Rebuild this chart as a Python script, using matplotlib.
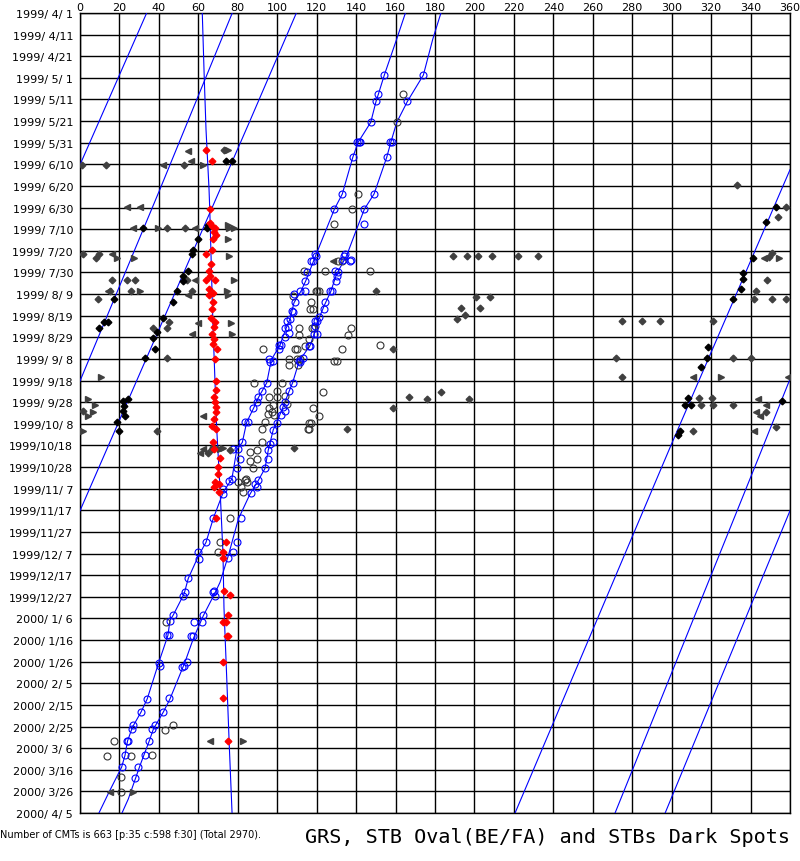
import matplotlib
matplotlib.use("Agg")
import matplotlib.pyplot as plt

# ---------------- data (longitude [deg], days since 1999/4/1) ----------------
date_labels = [
    "1999/ 4/ 1", "1999/ 4/11", "1999/ 4/21", "1999/ 5/ 1", "1999/ 5/11", "1999/ 5/21",
    "1999/ 5/31", "1999/ 6/10", "1999/ 6/20", "1999/ 6/30", "1999/ 7/10", "1999/ 7/20",
    "1999/ 7/30", "1999/ 8/ 9", "1999/ 8/19", "1999/ 8/29", "1999/ 9/ 8", "1999/ 9/18",
    "1999/ 9/28", "1999/10/ 8", "1999/10/18", "1999/10/28", "1999/11/ 7", "1999/11/17",
    "1999/11/27", "1999/12/ 7", "1999/12/17", "1999/12/27", "2000/ 1/ 6", "2000/ 1/16",
    "2000/ 1/26", "2000/ 2/ 5", "2000/ 2/15", "2000/ 2/25", "2000/ 3/ 6", "2000/ 3/16",
    "2000/ 3/26", "2000/ 4/ 5"]
date_days = list(range(0, 371, 10))
lon_ticks = list(range(0, 361, 20))

# drift lines (blue)
grs_line = [(62.0, 0), (63.0, 30), (63.9, 54), (65.4, 81), (65.8, 91), (67.4, 144),
            (69.3, 192), (71.0, 220), (72.5, 250), (73.0, 275), (74.5, 310),
            (75.7, 339), (77.1, 370)]
oval_a_line = [(165.0, 0), (160.6, 12), (154.3, 28.7), (151.3, 37.5), (150.1, 40.9),
               (147.4, 50.6), (141.0, 59.8), (138.3, 66.8), (133.0, 83.7), (129.0, 90.7),
               (119.5, 112.2), (114.5, 123.8), (112.0, 128.7), (108.5, 134.0),
               (106.5, 141.5), (104.4, 146.0), (101.4, 153.6), (97.0, 160.4), (94.7, 171.0),
               (90.5, 177.8), (88.0, 182.8), (84.5, 189.3), (82.3, 198.6), (79.5, 202.0),
               (77.0, 215.5), (72.7, 221.5), (67.6, 233.7), (63.9, 244.8), (60.2, 250.8),
               (54.9, 261.5), (52.8, 268.6), (47.3, 278.4), (45.6, 281.0), (44.6, 287.8),
               (39.9, 300.5), (34.1, 317.2), (30.9, 323.4), (26.6, 330.3), (24.1, 336.7),
               (22.8, 343.4), (21.1, 348.8), (14.9, 360.0), (9.6, 370.0)]
oval_b_line = [(183.0, 0), (178.9, 12), (174.1, 28.7), (166.0, 40.9), (160.6, 50.6),
               (157.6, 59.8), (155.5, 66.8), (149.1, 83.7), (144.2, 90.7), (140.3, 99.9),
               (135.2, 112.2), (130.0, 121.0), (127.2, 128.7), (124.0, 135.0),
               (120.8, 142.0), (118.7, 148.6), (116.6, 153.9), (111.2, 160.8),
               (107.8, 171.0), (106.1, 174.8), (103.0, 182.0), (99.7, 189.6), (98.0, 192.7),
               (95.5, 202.0), (93.8, 210.6), (90.4, 216.2), (86.2, 222.5), (80.3, 234.0),
               (75.2, 251.0), (71.0, 263.3), (68.3, 268.5), (62.5, 278.8), (57.4, 289.5),
               (53.2, 300.3), (45.6, 317.3), (42.2, 323.4), (37.2, 331.2), (35.1, 336.7),
               (30.4, 348.1), (24.5, 363.5), (21.3, 370.0)]
stbs_lines = [
    [(33.8, 0), (0, 70.2)],
    [(360, 72.5), (299.2, 200.9), (220.6, 370)],
    [(77.2, 0), (40.6, 81.4), (0, 170.2)],
    [(360, 169.3), (345.8, 201.7), (271.3, 370)],
    [(109.7, 0), (86.2, 49.8), (0, 230.2)],
    [(360, 230.2), (296.7, 370)],
]

# GRS (red diamonds)
grs_spots = [(63.7, 63.2), (66.8, 68.6), (65.9, 90.6), (66.8, 98.4), (68.5, 99.4), (65.9, 96.9),
             (67.3, 104.5), (66.8, 109.6), (63.9, 111.5), (65.6, 119.2), (65.9, 121.5),
             (64.0, 123.3), (68.2, 123.3), (65.6, 127.6), (67.3, 129.3), (65.3, 130.5),
             (67.6, 133.5), (66.5, 141.0), (68.2, 142.7), (66.8, 148.5), (67.7, 150.8),
             (67.2, 153.1), (69.4, 155.4), (68.5, 160.0), (68.8, 170.4), (68.8, 174.2),
             (68.1, 177.8), (68.5, 180.1), (69.2, 182.4), (69.2, 184.7), (68.1, 187.8),
             (66.8, 190.9), (69.2, 192.4), (67.8, 201.6), (71.0, 206.0), (69.8, 210.1),
             (70.0, 213.0), (68.5, 217.0), (70.7, 218.0), (67.8, 219.3), (70.7, 221.6),
             (69.0, 233.6), (74.0, 244.5), (72.7, 249.1), (72.7, 252.2), (73.0, 267.2),
             (76.1, 269.2), (75.2, 278.4), (72.7, 281.5), (74.0, 281.5), (74.5, 288.3),
             (75.0, 288.3), (72.7, 300.3), (72.7, 316.9), (75.2, 336.9), (67.6, 198.6),
             (67.9, 101.5), (68.8, 102.5), (66.3, 116.0), (67.0, 137.0), (68.0, 145.0)]

# STBs dark spots on drift lines (black diamonds)
dark_main = [(73.9, 68.6), (76.9, 68.6), (32.1, 99.4), (64.2, 99.4), (64.7, 97.9), (59.7, 104.5),
             (57.5, 109.6), (56.6, 111.5), (54.9, 119.2), (52.4, 121.5), (52.4, 123.8),
             (49.0, 128.7), (47.0, 133.5), (41.9, 141.2), (38.9, 147.7), (36.9, 150.3),
             (38.0, 155.4), (33.0, 159.6), (12.3, 142.7), (14.0, 142.7), (9.8, 145.9),
             (17.2, 132.2), (22.0, 179.3), (24.5, 178.5), (22.5, 181.6), (22.0, 183.9),
             (22.8, 186.2), (18.6, 189.2), (19.8, 193.1),
             (353.0, 89.6), (347.7, 96.5), (341.1, 113.3), (336.4, 120.4), (336.0, 123.0),
             (335.0, 127.6), (331.3, 132.1), (318.6, 154.3), (317.8, 159.6), (314.9, 163.5),
             (308.5, 178.2), (306.8, 181.3), (309.8, 181.3), (355.8, 179.3), (304.3, 193.1),
             (303.1, 195.1)]

# other dark spots (dark grey diamonds)
dark_other = [(73.0, 63.2), (0.9, 70.2), (13.2, 70.2), (52.9, 70.2), (44.0, 99.4), (53.3, 99.4),
              (1.7, 111.5), (9.8, 111.5), (7.9, 113.5), (54.1, 123.3), (16.1, 123.3),
              (23.7, 123.3), (27.9, 123.3), (56.6, 128.7), (15.2, 128.7), (25.9, 128.7),
              (9.0, 132.2), (45.3, 142.7), (36.9, 145.9), (44.0, 145.7), (44.0, 159.6),
              (1.7, 183.9), (38.9, 193.1), (65.1, 203.5), (66.8, 201.6), (67.6, 200.9),
              (76.1, 201.9), (108.5, 201.3), (135.2, 192.4), (158.9, 182.7), (149.9, 128.4),
              (158.6, 155.4), (189.0, 112.2), (196.1, 112.2), (201.7, 112.2), (208.9, 112.2),
              (222.0, 112.2), (232.3, 112.2), (200.7, 131.2), (207.8, 131.2), (193.1, 136.5),
              (202.7, 136.5), (195.2, 139.7), (191.0, 141.5), (166.8, 177.4), (176.0, 178.5),
              (182.9, 175.2), (197.1, 178.5), (333.0, 79.4), (358.0, 89.6), (353.8, 94.2),
              (350.7, 111.2), (349.4, 112.7), (348.5, 123.3), (342.6, 128.4), (341.9, 132.1),
              (350.7, 132.1), (358.0, 132.1), (274.7, 142.3), (284.8, 142.3), (294.0, 142.3),
              (320.9, 142.3), (271.6, 159.6), (330.9, 159.6), (340.2, 159.6), (274.7, 168.3),
              (313.9, 178.2), (320.2, 178.2), (314.9, 181.3), (320.9, 181.3), (330.9, 181.3),
              (347.9, 184.4), (352.8, 191.3), (310.7, 193.1)]

# preceding / following ends (triangles)
end_p = [(54.9, 63.7), (42.3, 70.5), (56.1, 68.6), (24.0, 89.9), (30.4, 89.9), (27.0, 99.4),
         (58.3, 99.4), (16.1, 111.5), (58.3, 123.3), (54.9, 130.5), (14.0, 128.7), (60.0, 143.2),
         (56.9, 148.5), (62.2, 186.5), (60.9, 203.5), (62.6, 201.6), (128.5, 114.6),
         (65.9, 336.9), (15.2, 360.2), (347.0, 113.3), (311.0, 168.3), (344.0, 178.5),
         (347.9, 181.3), (342.6, 184.7), (344.8, 186.5), (341.9, 193.1), (359.2, 168.3)]
end_f = [(75.2, 63.2), (62.5, 70.5), (39.7, 99.4), (75.2, 97.9), (75.5, 99.4), (78.2, 99.4),
         (74.9, 104.5), (75.6, 112.4), (18.6, 113.5), (27.5, 113.5), (78.1, 123.5),
         (74.4, 128.7), (75.0, 130.5), (30.4, 128.7), (76.4, 143.2), (76.9, 148.5),
         (10.6, 168.5), (3.9, 178.5), (7.6, 181.3), (3.9, 186.5), (6.8, 184.6), (1.7, 193.1),
         (71.0, 201.8), (72.7, 201.3), (82.5, 336.9), (27.0, 360.2), (354.6, 113.3),
         (324.9, 168.3)]

# STB ovals on the drift lines (blue circles)
oval_on_line = [
    (154.3, 28.7), (151.3, 37.5), (150.1, 40.9), (147.4, 50.6), (140.3, 59.8), (141.5, 59.8),
    (142.0, 59.8), (138.3, 66.8), (133.0, 83.7), (129.0, 90.7), (119.5, 112.2), (118.3, 114.6),
    (117.1, 114.6), (119.2, 111.5), (114.9, 119.9), (114.1, 123.8), (111.6, 128.7),
    (114.1, 128.7), (108.5, 129.9), (109.0, 133.6), (107.3, 138.0), (108.2, 138.5),
    (106.5, 141.5), (104.8, 142.3), (105.6, 145.4), (104.0, 145.9), (106.1, 148.0),
    (104.0, 150.0), (101.0, 153.6), (101.8, 153.6), (100.7, 155.4), (96.0, 160.0),
    (98.0, 160.8), (96.5, 161.6), (94.7, 171.0), (92.1, 174.8), (90.4, 177.8), (89.6, 180.1),
    (87.9, 182.8), (85.3, 189.3), (83.7, 189.3), (82.3, 198.6), (80.3, 201.6), (77.7, 201.6),
    (81.1, 206.3), (79.5, 210.6), (76.9, 215.5), (75.7, 216.3), (72.7, 220.2), (72.7, 222.5),
    (67.6, 233.7), (63.9, 244.8), (60.0, 249.1), (60.3, 252.5), (54.9, 261.5), (53.2, 267.7),
    (52.4, 269.5), (47.3, 278.4), (45.6, 281.0), (44.0, 287.8), (45.3, 287.8), (39.9, 300.5),
    (40.5, 302.0), (34.1, 317.2), (30.9, 323.4), (27.0, 329.2), (26.2, 331.3), (24.5, 336.7),
    (23.7, 336.7), (22.8, 343.4), (21.1, 348.8),
    (174.1, 28.7), (166.0, 40.9), (158.0, 59.8), (157.2, 59.8), (155.5, 66.8), (149.1, 83.7),
    (144.2, 90.7), (144.2, 97.6), (134.0, 112.2), (136.9, 114.6), (134.4, 111.6),
    (133.5, 114.4), (137.3, 114.4), (129.3, 119.5), (130.9, 119.9), (130.2, 121.5),
    (129.8, 123.8), (126.8, 128.7), (127.6, 128.7), (124.2, 133.8), (123.9, 136.9),
    (121.4, 140.7), (120.3, 142.3), (119.2, 142.3), (119.2, 144.6), (118.7, 148.6),
    (120.3, 148.6), (116.6, 153.9), (116.3, 153.9), (112.9, 159.7), (111.6, 161.6),
    (111.2, 160.8), (107.8, 171.0), (106.1, 174.8), (104.0, 180.0), (103.0, 182.0),
    (104.0, 184.0), (102.0, 186.0), (99.7, 189.6), (98.0, 192.7), (98.0, 198.6), (96.3, 199.3),
    (95.5, 201.9), (95.5, 206.2), (93.8, 210.6), (90.4, 216.2), (88.7, 217.7), (89.5, 219.0),
    (86.6, 222.0), (81.5, 233.7), (79.5, 244.5), (77.4, 249.1), (75.2, 252.2), (67.6, 267.9),
    (68.0, 267.2), (68.5, 269.5), (62.5, 278.4), (61.7, 281.5), (58.0, 281.5), (57.5, 288.3),
    (56.3, 288.3), (54.1, 300.3), (52.7, 302.1), (51.6, 302.6), (45.3, 316.9), (42.2, 323.4),
    (38.0, 329.2), (36.4, 331.3), (35.1, 336.7), (33.0, 343.4), (29.6, 348.8), (27.9, 353.9)]

# other ovals / spots (dark open circles)
oval_other = [
    (163.9, 37.5), (160.6, 50.6), (141.1, 83.7), (138.1, 90.7), (129.0, 97.6), (131.0, 114.6),
    (132.8, 114.6), (124.2, 119.5), (113.6, 119.5), (147.1, 119.5), (120.0, 128.7),
    (121.0, 128.7), (119.6, 128.7), (117.1, 133.8), (108.2, 130.7), (116.6, 136.9),
    (118.3, 136.9), (137.3, 145.9), (136.1, 148.8), (111.2, 145.9), (111.2, 148.8),
    (117.5, 145.9), (116.1, 150.8), (118.4, 145.8), (93.0, 155.4), (109.0, 155.4),
    (109.9, 155.4), (114.1, 153.9), (133.0, 155.4), (152.1, 153.6), (106.1, 160.0),
    (109.9, 160.0), (111.6, 160.0), (106.1, 162.6), (110.7, 162.6), (128.8, 160.8),
    (130.2, 160.8), (88.2, 171.0), (102.3, 171.0), (100.0, 174.8), (99.7, 177.8), (96.0, 177.8),
    (98.0, 181.5), (96.0, 182.5), (97.5, 184.5), (95.5, 185.5), (98.5, 186.0), (104.0, 177.0),
    (104.8, 180.8), (123.4, 175.4), (118.3, 182.8), (121.4, 186.5), (116.1, 189.6),
    (117.1, 189.6), (116.3, 192.4), (92.1, 192.4), (93.8, 189.3), (92.1, 198.3), (86.2, 203.2),
    (89.6, 202.0), (89.6, 206.3), (86.2, 207.0), (87.6, 210.6), (84.0, 215.5), (84.5, 217.0),
    (115.8, 192.4), (80.0, 217.0), (81.5, 219.0), (82.5, 221.5), (83.5, 216.0), (76.1, 233.7),
    (71.0, 244.8), (70.2, 249.4), (43.6, 281.5), (43.1, 331.7), (47.3, 329.3), (17.4, 336.9),
    (13.5, 343.8), (25.7, 343.8), (36.4, 343.4), (20.8, 353.4), (20.8, 360.2)]

footnote = "Number of CMTs is 663 [p:35 c:598 f:30] (Total 2970)."
title = "GRS, STB Oval(BE/FA) and STBs Dark Spots"

# ---------------- drawing ----------------
plt.rcParams['font.family'] = ['DejaVu Sans']
fig = plt.figure(figsize=(8.0, 8.62), dpi=100)
ax = fig.add_axes([80 / 800, 1 - 814 / 862, 710 / 800, 800 / 862])
ax.set_xlim(0, 360)
ax.set_ylim(370, 0)

ax.set_xticks(lon_ticks)
ax.set_yticks(date_days)
ax.set_yticklabels(date_labels)
ax.xaxis.tick_top()
ax.tick_params(axis='both', length=0, labelsize=8, colors='black')
ax.tick_params(axis='x', pad=1)
ax.tick_params(axis='y', pad=5)
ax.grid(True, color='black', linewidth=1.0)
ax.set_axisbelow(True)
for sp in ax.spines.values():
    sp.set_color('black')
    sp.set_linewidth(1.0)

blue = '#0000FF'
for line in [grs_line, oval_a_line, oval_b_line] + stbs_lines:
    xs = [p[0] for p in line]
    ys = [p[1] for p in line]
    ax.plot(xs, ys, color=blue, linewidth=0.8, zorder=3)


def pts(data):
    return [p[0] for p in data], [p[1] for p in data]


x, y = pts(oval_other)
ax.plot(x, y, 'o', ms=5, mfc='none', mec='#333333', mew=0.8, ls='none', zorder=4)
x, y = pts(oval_on_line)
ax.plot(x, y, 'o', ms=5, mfc='none', mec=blue, mew=0.8, ls='none', zorder=5)
x, y = pts(end_p)
ax.plot(x, y, '<', ms=4, mfc='#404040', mec='#404040', ls='none', zorder=6)
x, y = pts(end_f)
ax.plot(x, y, '>', ms=4, mfc='#404040', mec='#404040', ls='none', zorder=6)
x, y = pts(dark_other)
ax.plot(x, y, 'D', ms=3.4, mfc='#404040', mec='#404040', ls='none', zorder=6)
x, y = pts(dark_main)
ax.plot(x, y, 'D', ms=3.4, mfc='black', mec='black', ls='none', zorder=7)
x, y = pts(grs_spots)
ax.plot(x, y, 'D', ms=3.4, mfc='#FF0000', mec='#FF0000', ls='none', zorder=7)

fig.text(0.0, 1 - 835 / 862, footnote, fontsize=7, ha='left', va='center')
fig.text(790 / 800, 1 - 838 / 862, title, fontsize=14.5, family='DejaVu Sans Mono',
         ha='right', va='center')

fig.savefig('out.png', dpi=100, facecolor='white')
